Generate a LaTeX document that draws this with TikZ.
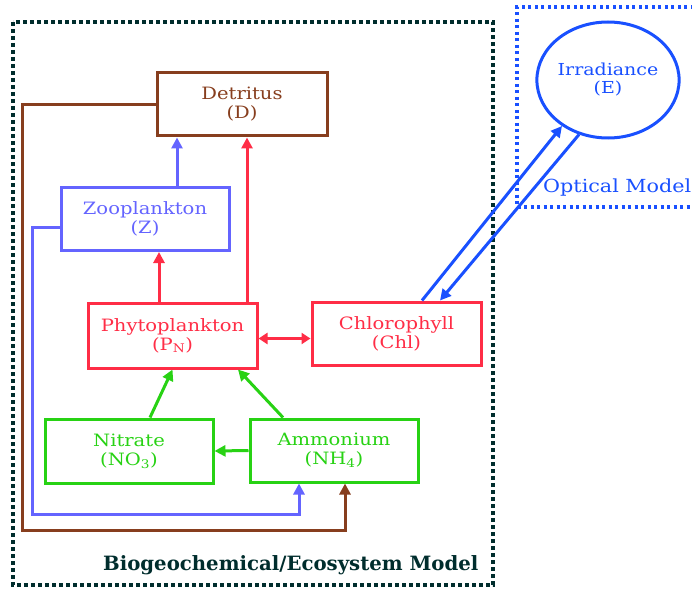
\documentclass[tikz,border=0pt]{standalone}
\usepackage{fontspec}
\setmainfont{DejaVu Serif}[FakeStretch=1.15]
\newfontfamily\plainserif{DejaVu Serif}
\usetikzlibrary{arrows.meta,shapes.geometric,calc}
\definecolor{cbrown}{RGB}{135,62,30}
\definecolor{cviolet}{RGB}{100,100,255}
\definecolor{cred}{RGB}{255,45,70}
\definecolor{cgreen}{RGB}{40,210,20}
\definecolor{cblue}{RGB}{25,80,255}
\definecolor{cdark}{RGB}{0,45,45}
\tikzset{
  box/.style={draw,line width=3pt,minimum width=168pt,minimum height=63pt,inner sep=0pt,align=center,
    font=\fontsize{17}{19}\selectfont},
  con/.style={line width=3pt},
  tip/.style={-{Triangle[length=11pt,width=11pt]}},
  frame/.style={line width=3.8pt,dash pattern=on 4pt off 3pt},
}
\begin{document}
\begin{tikzpicture}[x=1pt,y=-1pt]
\useasboundingbox (0,0) rectangle (692,588);
% frames
\draw[frame,cdark] (13,22) rectangle (493,585);
\draw[frame,cblue,line width=3.2pt,dash pattern=on 3pt off 3.5pt] (700,7) -- (517,7) -- (517,207) -- (700,207);
% nodes
\node[box,cbrown,minimum width=170pt] (det) at (242,104.5) {Detritus\\(D)};
\node[box,cviolet] (zoo) at (145,219) {Zooplankton\\(Z)};
\node[box,cred,minimum height=65pt,minimum width=169pt] (phy) at (172.5,335.5) {Phytoplankton\\(P\textsubscript{N})};
\node[box,cred,minimum width=169pt] (chl) at (396.5,333.5) {Chlorophyll\\(Chl)};
\node[box,cgreen,minimum height=64pt] (nit) at (129,451) {Nitrate\\(NO\textsubscript{3})};
\node[box,cgreen] (amm) at (334,450.5) {Ammonium\\(NH\textsubscript{4})};
\node[draw,cblue,ellipse,line width=3pt,minimum width=132pt,minimum height=116pt,inner sep=0pt,align=center,
  font=\fontsize{16.5}{18}\selectfont] (irr) at (608,80) {Irradiance\\(E)};
% labels
\node[anchor=base west,cblue,inner sep=0pt,font=\fontsize{18}{20}\selectfont] (opt) at (543,192) {Optical Model};
\node[anchor=base west,cdark,inner sep=0pt,font=\plainserif\fontsize{19.7}{21}\selectfont\bfseries] (bio) at (103,570) {Biogeochemical/Ecosystem Model};
% coordinates
\coordinate (zd) at ([xshift=32pt]zoo.north);
\coordinate (pd) at ([xshift=5pt]det.south);
\coordinate (pz) at ([xshift=14pt]zoo.south);
\coordinate (bA) at ([xshift=11pt]amm.south);
\coordinate (vA) at ([xshift=-35pt]amm.south);
\coordinate (vZ) at ([yshift=-8pt]zoo.west);
\coordinate (nP) at ([xshift=21pt]nit.north);
\coordinate (aP) at ([xshift=-51pt]amm.north);
\coordinate (pA) at ([xshift=65.5pt]phy.south);
\coordinate (c1) at ([xshift=25.5pt]chl.north);
\coordinate (c2) at ([xshift=43.5pt]chl.north);
% connectors
\draw[con,cviolet,tip] (zd) -- (zd |- det.south);
\draw[con,cred,tip] (pd |- phy.north) -- (pd);
\draw[con,cred,tip] (pz |- phy.north) -- (pz);
\draw[con,cbrown,tip] (det.west) -- (22,0 |- det.west) -- (22,530) -- (bA |- 0,530) -- (bA);
\draw[con,cviolet,tip] (vZ) -- (32,0 |- vZ) -- (32,514) -- (vA |- 0,514) -- (vA);
\draw[con,cred,{Triangle[length=9pt,width=11pt]}-{Triangle[length=9pt,width=11pt]}] ([yshift=-3pt]phy.east) -- ([yshift=-3pt]phy.east -| chl.west);
\draw[con,cgreen,tip] (nP) -- (phy.south);
\draw[con,cgreen,tip] (aP) -- (pA);
\draw[con,cgreen,tip] (amm.west) -- (nit.east);
\draw[con,cblue,tip] (c1) -- (irr.225);
\draw[con,cblue,tip] (irr.242) -- (c2);
\end{tikzpicture}
\end{document}
